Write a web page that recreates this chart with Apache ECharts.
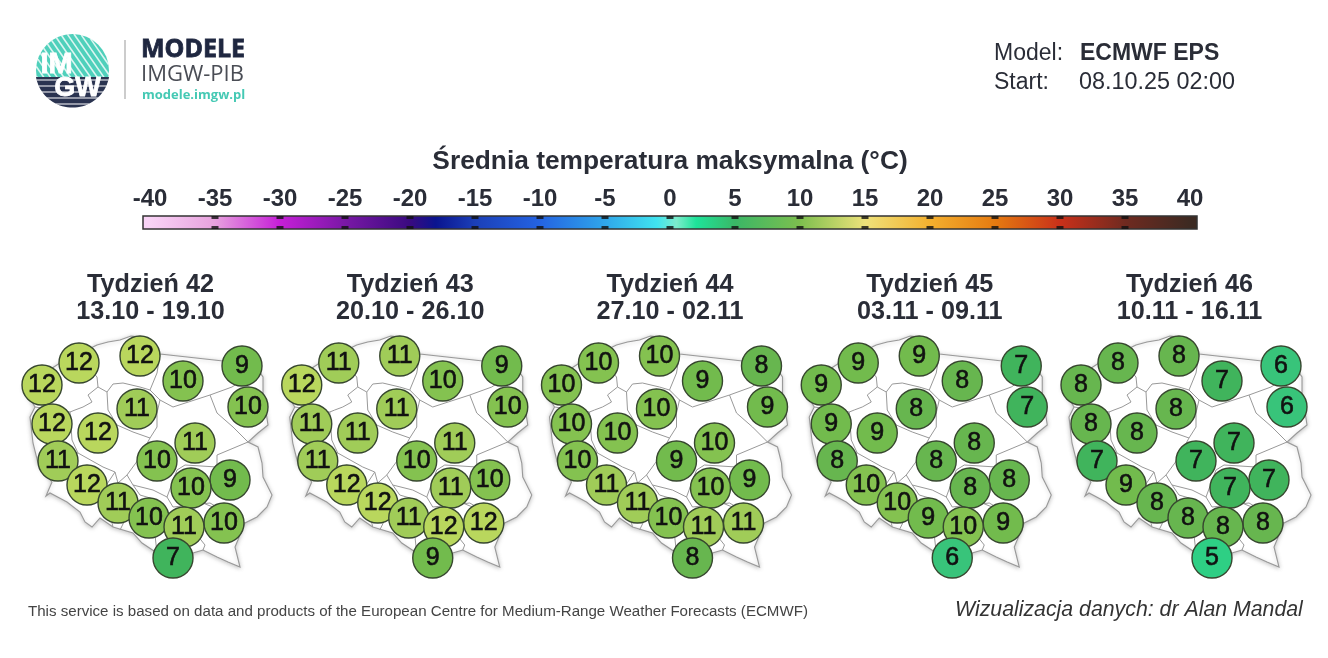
<!DOCTYPE html>
<html><head><meta charset="utf-8">
<style>html,body{margin:0;padding:0;background:#fff}#c{width:1328px;height:658px}</style>
<script src="https://cdn.jsdelivr.net/npm/echarts@6/dist/echarts.min.js"></script>
</head><body><div id="c"></div>
<script>
// ---- data ----
const weekTitles = ['Tydzień 42','Tydzień 43','Tydzień 44','Tydzień 45','Tydzień 46'];
const weekDates = ['13.10 - 19.10','20.10 - 26.10','27.10 - 02.11','03.11 - 09.11','10.11 - 16.11'];
// forecast sites, in map units
const siteX = [42,79,140,242,183,248,52,137,98,58,195,157,230,87,191,118,149,224,184,173];
const siteY = [385,363,356,366,381,407,424,409,433,461,443,461,480,485,488,503,518,523,527,558];
const week42 = [12,12,12,9,10,10,12,11,12,11,11,10,9,12,10,11,10,10,11,7];
const week43 = [12,11,11,9,10,10,11,11,11,11,11,10,10,12,11,12,11,12,12,9];
const week44 = [10,10,10,8,9,9,10,10,10,10,10,9,9,11,10,11,10,11,11,8];
const week45 = [9,9,9,7,8,7,9,8,9,8,8,8,8,10,8,10,9,9,10,6];
const week46 = [8,8,8,6,7,6,8,8,8,7,7,7,7,9,7,8,8,8,8,5];
const weeks = [week42,week43,week44,week45,week46];
const scaleTicks = [-40,-35,-30,-25,-20,-15,-10,-5,0,5,10,15,20,25,30,35,40];
const rampValues = [-40,-35,-30,-25,-20,-18,-15,-10,-5,-1,0.5,2,5,10,15,20,25,30,35,40];
const rampColors = ['#f9d3f6','#e8a2de','#c61fd8','#7a18a6','#3a0a80','#0a148f','#1b3fb8','#2463e2','#2fa6ea','#40e4f0','#7ceccc','#1ee39a','#3ab766','#7dbf4e','#eee27a','#f4b02e','#e57a10','#c9301a','#6f2a20','#3c2a22'];
const valueSteps = [5,6,7,8,9,10,11,12];
const valueColors = ['#2ecf84','#38c47a','#40b45c','#67b64f','#72bb4d','#84c250','#a0cc58','#b9d75d'];
// Poland outline and province borders, in map units
const outline = [[97,345],[108,342],[120,340],[131,336],[140,337],[150,345],[160,354],[187,357],[223,361],[253,363],[263,377],[263,397],[266,412],[268,425],[258,433],[248,442],[258,447],[260,455],[262,463],[263,477],[272,495],[267,507],[257,517],[245,523],[240,535],[235,547],[240,567],[228,562],[217,557],[203,550],[193,553],[180,566],[165,560],[157,553],[142,543],[133,533],[113,527],[100,518],[92,527],[85,522],[80,512],[67,502],[50,493],[46,496],[52,482],[38,463],[33,443],[30,417],[35,407],[23,387],[60,363]];
const borders = [
  [[75,352],[97,377],[98,387],[88,395],[92,402],[83,407],[75,410],[70,412],[35,407]],
  [[160,354],[157,373],[150,390],[160,400],[173,407],[210,395],[232,387],[250,375]],
  [[98,387],[107,392],[113,384],[123,383],[140,387],[150,390]],
  [[107,392],[108,410],[117,425],[133,432],[150,438],[157,427],[157,413],[160,400]],
  [[210,395],[217,413],[233,427],[248,442]],
  [[248,442],[217,455],[217,467],[185,465],[177,470],[167,497],[173,507],[210,503],[217,507]],
  [[150,438],[138,460],[127,475],[133,485],[153,490],[167,497]],
  [[70,412],[72,440],[78,453],[103,467],[115,472],[118,483],[127,475]],
  [[133,485],[140,495],[157,500],[167,520],[155,535],[157,553]],
  [[133,490],[135,505],[125,520],[120,530]],
  [[115,472],[103,490],[110,515],[113,527]],
  [[78,453],[62,455],[50,468]],
  [[217,507],[210,520],[197,535],[205,545],[203,550]],
  [[203,503],[225,512],[245,523]],
  [[167,520],[197,535]]
];
// ---- layout ----
const FONT = '"Liberation Sans", Arial, sans-serif';
const INK = '#2a2d37';
const panelStep = 259.75;
const xs = outline.map(p=>p[0]), ys = outline.map(p=>p[1]);
const minX=Math.min(...xs), maxX=Math.max(...xs), minY=Math.min(...ys), maxY=Math.max(...ys);

echarts.registerMap('poland',{type:'FeatureCollection',features:[
  {type:'Feature',properties:{name:'PL'},geometry:{type:'Polygon',coordinates:[outline.concat([outline[0]])]}}
]});

const identity = {project:p=>p, unproject:p=>p};
const geos=[], series=[];
weeks.forEach((vals,i)=>{
  geos.push({map:'poland',projection:identity,silent:true,roam:false,
    left:minX+i*panelStep,top:minY,width:maxX-minX,height:maxY-minY,
    label:{show:false},
    itemStyle:{areaColor:'#fff',borderColor:'#999',borderWidth:1.1,shadowColor:'rgba(0,0,0,0.22)',shadowBlur:4,shadowOffsetX:0,shadowOffsetY:1},
    emphasis:{disabled:true}});
});
weeks.forEach((vals,i)=>{
  series.push({type:'lines',coordinateSystem:'geo',geoIndex:i,polyline:true,silent:true,z:2,
    lineStyle:{color:'#999',width:1,opacity:1},
    data:borders.map(b=>({coords:b}))});
});
const scatterIdx=[];
weeks.forEach((vals,i)=>{
  scatterIdx.push(series.length);
  series.push({type:'scatter',coordinateSystem:'geo',geoIndex:i,silent:true,z:3,symbol:'circle',symbolSize:40,
    itemStyle:{borderColor:'#37472f',borderWidth:1.4,opacity:1},
    label:{show:true,position:'inside',formatter:p=>String(p.value[2]),color:'#111',fontFamily:FONT,fontSize:25,textBorderColor:'#111',textBorderWidth:0.6},
    data:vals.map((v,k)=>[siteX[k],siteY[k],v])});
});
// black dashes on the colour bar, at inner ticks, on both edges
const innerTicks = scaleTicks.slice(1,-1);
[[1,[0,1.5]],[0,[0,-1.5]]].forEach(([yv,off])=>{
  series.push({type:'scatter',xAxisIndex:0,yAxisIndex:0,silent:true,z:6,symbol:'rect',symbolSize:[7,3],symbolOffset:off,
    itemStyle:{color:'#111'},data:innerTicks.map(t=>[t,yv])});
});

const titles=[
 {text:'Średnia temperatura maksymalna (°C)',left:670,top:149,padding:0,textAlign:'center',textStyle:{fontFamily:FONT,fontWeight:'bold',fontSize:26.3,color:INK}},
 {text:'This service is based on data and products of the European Centre for Medium-Range Weather Forecasts (ECMWF)',left:28,top:604,padding:0,textStyle:{fontFamily:FONT,fontWeight:'normal',fontSize:15.1,color:'#444'}},
 {text:'Wizualizacja danych: dr Alan Mandal',left:955,top:600,padding:0,textStyle:{fontFamily:FONT,fontWeight:'normal',fontStyle:'italic',fontSize:21.3,color:'#333'}},
 {text:'Model:',left:994,top:42,padding:0,textStyle:{fontFamily:FONT,fontWeight:'normal',fontSize:23,color:INK}},
 {text:'ECMWF EPS',left:1080,top:42,padding:0,textStyle:{fontFamily:FONT,fontWeight:'bold',fontSize:23,color:INK}},
 {text:'Start:',left:994,top:71,padding:0,textStyle:{fontFamily:FONT,fontWeight:'normal',fontSize:23,color:INK}},
 {text:'08.10.25 02:00',left:1079,top:71,padding:0,textStyle:{fontFamily:FONT,fontWeight:'normal',fontSize:23.4,color:INK}},
 {text:'MODELE',left:141,top:37,padding:0,textStyle:{fontFamily:'"Open Sans", sans-serif',fontWeight:'bold',fontSize:25,color:'#1f2740',textBorderColor:'#1f2740',textBorderWidth:0.8}},
 {text:'IMGW-PIB',left:141,top:64,padding:0,textStyle:{fontFamily:'"Open Sans", sans-serif',fontWeight:'normal',fontSize:22,color:'#4a4d55'}},
 {text:'modele.imgw.pl',left:142,top:89,padding:0,textStyle:{fontFamily:'"Open Sans", sans-serif',fontWeight:'bold',fontSize:13,color:'#45c9b4'}}
];
weekTitles.forEach((t,i)=>{
  const cx=150.5+i*panelStep;
  titles.push({text:t,left:cx,top:273,padding:0,textAlign:'center',textStyle:{fontFamily:FONT,fontWeight:'bold',fontSize:25.2,color:INK}});
  titles.push({text:weekDates[i],left:cx,top:300,padding:0,textAlign:'center',textStyle:{fontFamily:FONT,fontWeight:'bold',fontSize:25.2,color:INK}});
});

// colour bar: extends 7 px past the -40 and 40 ticks
const barL=143,barR=1197,axL=150,axR=1190;
const stops=rampValues.map((v,k)=>({offset:(axL+(axR-axL)*(v+40)/80-barL)/(barR-barL),color:rampColors[k]}));
stops.unshift({offset:0,color:rampColors[0]});
stops.push({offset:1,color:rampColors[rampColors.length-1]});

// logo
const LC=[72.5,70.5],LR=36.5,TEAL='#4fd0bb',NAVY='#2a3350',LSPLIT=77;
const logo=[{type:'circle',shape:{cx:LC[0],cy:LC[1],r:LR},style:{fill:TEAL}}];
for(let c=-33;c<=33;c+=5.5){
  const a=0.82,b=-0.57,h=Math.sqrt(LR*LR-c*c);
  logo.push({type:'line',shape:{x1:LC[0]+a*c-b*h,y1:LC[1]+b*c+a*h,x2:LC[0]+a*c+b*h,y2:LC[1]+b*c-a*h},style:{stroke:'#fff',lineWidth:1.6,opacity:.8}});
}
const seg=[];
const startA=Math.asin((LSPLIT-LC[1])/LR);
for(let k=0;k<=40;k++){const t=startA+(Math.PI-2*startA)*k/40;seg.push([LC[0]+(LR+0.6)*Math.cos(t),LC[1]+(LR+0.6)*Math.sin(t)]);}
logo.push({type:'polygon',shape:{points:seg},style:{fill:NAVY}});
for(let y=LSPLIT+3;y<LC[1]+LR-1;y+=6){
  const h=Math.sqrt((LR+1)*(LR+1)-(y-LC[1])*(y-LC[1]));
  logo.push({type:'line',shape:{x1:LC[0]-h,y1:y,x2:LC[0]+h,y2:y},style:{stroke:'#fff',lineWidth:1.2}});
}
logo.push({type:'text',style:{x:56.5,y:65,text:'IM',fill:'#fff',stroke:'#fff',lineWidth:0.8,font:'bold 29px "Liberation Sans", sans-serif',align:'center',verticalAlign:'middle'}});
logo.push({type:'text',style:{x:77.5,y:89,text:'GW',fill:'#fff',stroke:'#fff',lineWidth:0.8,font:'bold 27px "Liberation Sans", sans-serif',align:'center',verticalAlign:'middle'}});
logo.push({type:'line',shape:{x1:125,y1:40,x2:125,y2:99},style:{stroke:'#bbb',lineWidth:1.5}});

const chart=echarts.init(document.getElementById('c'),null,{renderer:'canvas'});
chart.setOption({
  animation:false,backgroundColor:'#fff',
  title:titles,
  geo:geos,
  grid:{left:axL,width:axR-axL,top:216,height:13,show:false,containLabel:false},
  xAxis:{type:'value',min:scaleTicks[0],max:scaleTicks[scaleTicks.length-1],interval:5,position:'top',z:5,
     axisLine:{show:false},splitLine:{show:false},axisTick:{show:false},
     axisLabel:{show:true,margin:5,fontFamily:FONT,fontWeight:'bold',fontSize:24,color:INK,showMinLabel:true,showMaxLabel:true,formatter:v=>String(v)}},
  yAxis:{type:'value',show:false,min:0,max:1},
  visualMap:{type:'piecewise',show:false,dimension:2,seriesIndex:scatterIdx,
    pieces:valueSteps.map((v,k)=>({value:v,color:valueColors[k]}))},
  graphic:[
    {type:'rect',z:-1,shape:{x:barL,y:216,width:barR-barL,height:13},
     style:{fill:new echarts.graphic.LinearGradient(0,0,1,0,stops),stroke:'#333',lineWidth:1.5}},
    ...logo.map(e=>Object.assign({z:1},e))
  ],
  series:series
});
</script></body></html>
